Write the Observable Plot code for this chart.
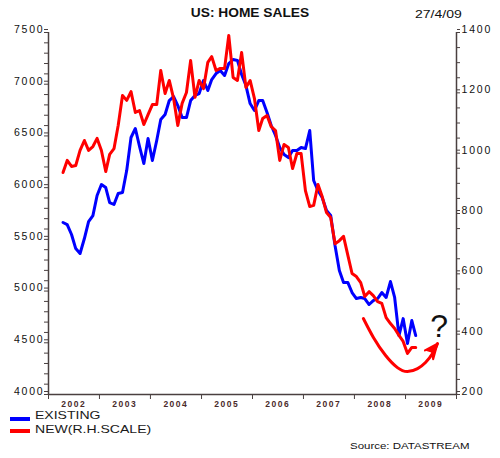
<!DOCTYPE html>
<html><head><meta charset="utf-8">
<script src="https://cdn.jsdelivr.net/npm/d3@7"></script>
<script src="https://cdn.jsdelivr.net/npm/@observablehq/plot@0.6"></script>
<style>
body{margin:0;background:#fff;}
#wrap{position:relative;width:500px;height:458px;font-family:"Liberation Sans",Arial,sans-serif;overflow:hidden;background:#fff}
#chart{position:absolute;left:0;top:0}
#chart svg text{letter-spacing:1.8px}
#chart svg g[aria-label^="x-axis"] text{letter-spacing:1.5px}
.t{position:absolute;white-space:nowrap;color:#111;line-height:1;transform-origin:0 50%}
#title{left:0;width:500px;text-align:center;top:6.7px;font-size:12.5px;font-weight:bold;transform:scaleX(1.1);transform-origin:50% 50%}
#date{left:415px;top:9.8px;font-size:10px;transform:scaleX(1.4)}
.sw{position:absolute;left:10px;width:20px;height:3.7px}
.lg{left:35px;font-size:10.8px;color:#1a1a1a;transform:scaleX(1.3)}
#src{left:350px;top:442px;font-size:8.5px;transform:scaleX(1.35)}
</style></head><body>
<div id="wrap">
<div id="chart"></div>
<div class="t" id="title">US: HOME SALES</div>
<div class="t" id="date">27/4/09</div>
<div class="sw" style="top:417.3px;background:#0000ff"></div>
<div class="t lg" style="top:410.2px">EXISTING</div>
<div class="sw" style="top:429.3px;background:#ff0000"></div>
<div class="t lg" style="top:423.8px">NEW(R.H.SCALE)</div>
<div class="t" id="src">Source: DATASTREAM</div>
</div>
<script>
// Monthly data, April 2002 .. March 2009
const startYear = 2002, startMonth = 3; // April (0-based)
const existing = [5663,5643,5547,5411,5363,5508,5672,5730,5924,6030,6001,5856,
  5837,5943,5953,6165,6485,6572,6398,6233,6475,6262,6456,6659,
  6707,6842,6881,6794,6678,6678,6842,6891,6910,7036,6939,7045,
  7103,7133,7084,7200,7239,7230,7094,6987,6813,6746,6842,6842,
  6726,6601,6504,6388,6320,6291,6359,6359,6388,6378,6552,6069,
  5972,5904,5779,5730,5440,5198,5082,5082,4986,4928,4938,4928,
  4870,4908,4928,4986,4938,5092,4938,4570,4734,4493,4715,4570];
const newHomes = [936,976,956,959,1009,1042,1009,1022,1049,1009,939,996,
  1015,1092,1191,1175,1204,1135,1141,1095,1128,1161,1161,1274,
  1198,1241,1181,1092,1165,1201,1307,1185,1241,1214,1301,1320,
  1274,1281,1281,1390,1251,1241,1334,1218,1241,1181,1075,1115,
  1125,1088,1075,976,1029,1019,949,999,999,876,823,827,
  896,856,803,787,700,710,724,661,601,591,571,525,
  541,528,508,502,455,435,419,396,376,336,356,356];

// Axis ticks
const years = [2002,2003,2004,2005,2006,2007,2008,2009,2010];
const leftMajor = [4000,4500,5000,5500,6000,6500,7000,7500];
const rightMajor = [200,400,600,800,1000,1200,1400];
const leftDomain = [4000, 7500];
const rightDomain = [200, 1400];

// Hand-drawn annotation (in date / right-scale units)
const arrowDates = ["2008-03-05","2008-05-16","2008-08-10","2008-11-04","2009-01-15","2009-03-28","2009-05-24","2009-07-13","2009-08-18"];
const arrowValues = [452,389,330,289,276,286,306,336,369];
const headDates = ["2009-05-20","2009-08-18","2009-07-18","2009-07-10"];
const headValues = [346,369,317,338];
const qDate = "2009-09-06", qValue = 425;

const toLeft = r => leftDomain[0] + (r - rightDomain[0]) * (leftDomain[1]-leftDomain[0]) / (rightDomain[1]-rightDomain[0]);
const toRight = v => String(Math.round(rightDomain[0] + (v - leftDomain[0]) * (rightDomain[1]-rightDomain[0]) / (leftDomain[1]-leftDomain[0])));

const dates = existing.map((_, i) => new Date(Date.UTC(startYear, startMonth + i, 15)));
const exData = existing.map((v, i) => ({date: dates[i], value: v}));
const nwData = newHomes.map((v, i) => ({date: dates[i], value: toLeft(v)}));
const arrowData = arrowDates.map((d, i) => ({date: new Date(d), value: toLeft(arrowValues[i])}));
const headData = headDates.map((d, i) => ({date: new Date(d), value: toLeft(headValues[i])}));

const yearStarts = years.map(y => new Date(Date.UTC(y, 0, 1)));
const yearMids = years.slice(0, -1).map(y => new Date(Date.UTC(y, 6, 1)));
const leftMinor = d3.range(leftDomain[0], leftDomain[1] + 1, 100);
const rightMinor = d3.range(rightDomain[0], rightDomain[1] + 1, 50).map(toLeft);

const axisColor = "#4a4040";
const labelColor = "#111";

const plot = Plot.plot({
  width: 500, height: 420,
  marginTop: 32, marginBottom: 26, marginLeft: 48, marginRight: 44,
  style: {fontFamily: "Liberation Sans, Arial, sans-serif", background: "transparent", overflow: "visible"},
  x: {type: "utc", domain: [yearStarts[0], yearStarts[yearStarts.length - 1]]},
  y: {domain: leftDomain},
  marks: [
    Plot.axisY({ticks: leftMinor, tickSize: 4, tickFormat: () => "", stroke: axisColor, label: null}),
    Plot.axisY({ticks: leftMajor, tickSize: 4, tickPadding: 0, dy: -3, fontSize: 10.5, fill: labelColor, stroke: axisColor, label: null, tickFormat: d => String(d)}),
    Plot.axisY({anchor: "right", ticks: rightMinor, tickSize: 3, tickFormat: () => "", stroke: axisColor, label: null}),
    Plot.axisY({anchor: "right", ticks: rightMajor.map(toLeft), tickFormat: toRight, tickSize: 3, tickPadding: 2, dy: -3, fontSize: 10.5, fill: labelColor, stroke: axisColor, label: null}),
    Plot.axisX({ticks: yearStarts, tickSize: 5, tickFormat: () => "", stroke: axisColor, label: null}),
    Plot.axisX({ticks: yearMids, tickSize: 0, tickPadding: 6, tickFormat: d3.utcFormat("%Y"), fontSize: 8.5, fontWeight: "bold", fill: "#4a2a2a", label: null}),
    Plot.ruleX([yearStarts[0], yearStarts[yearStarts.length - 1]], {stroke: axisColor, strokeWidth: 1.5}),
    Plot.ruleY([leftDomain[0]], {stroke: axisColor, strokeWidth: 1.5}),
    Plot.line(exData, {x: "date", y: "value", stroke: "#0000ff", strokeWidth: 3}),
    Plot.line(nwData, {x: "date", y: "value", stroke: "#ff0000", strokeWidth: 3}),
    Plot.line(arrowData, {x: "date", y: "value", stroke: "#ff0000", strokeWidth: 3, curve: "natural"}),
    Plot.line(headData, {x: "date", y: "value", stroke: "#ff0000", fill: "#ff0000", strokeWidth: 2, strokeLinejoin: "round"}),
    Plot.text([{date: new Date(qDate), value: toLeft(qValue), t: "?"}], {x: "date", y: "value", text: "t", fontSize: 32, fill: "#111"})
  ]
});
document.getElementById("chart").appendChild(plot);
</script>
</body></html>
